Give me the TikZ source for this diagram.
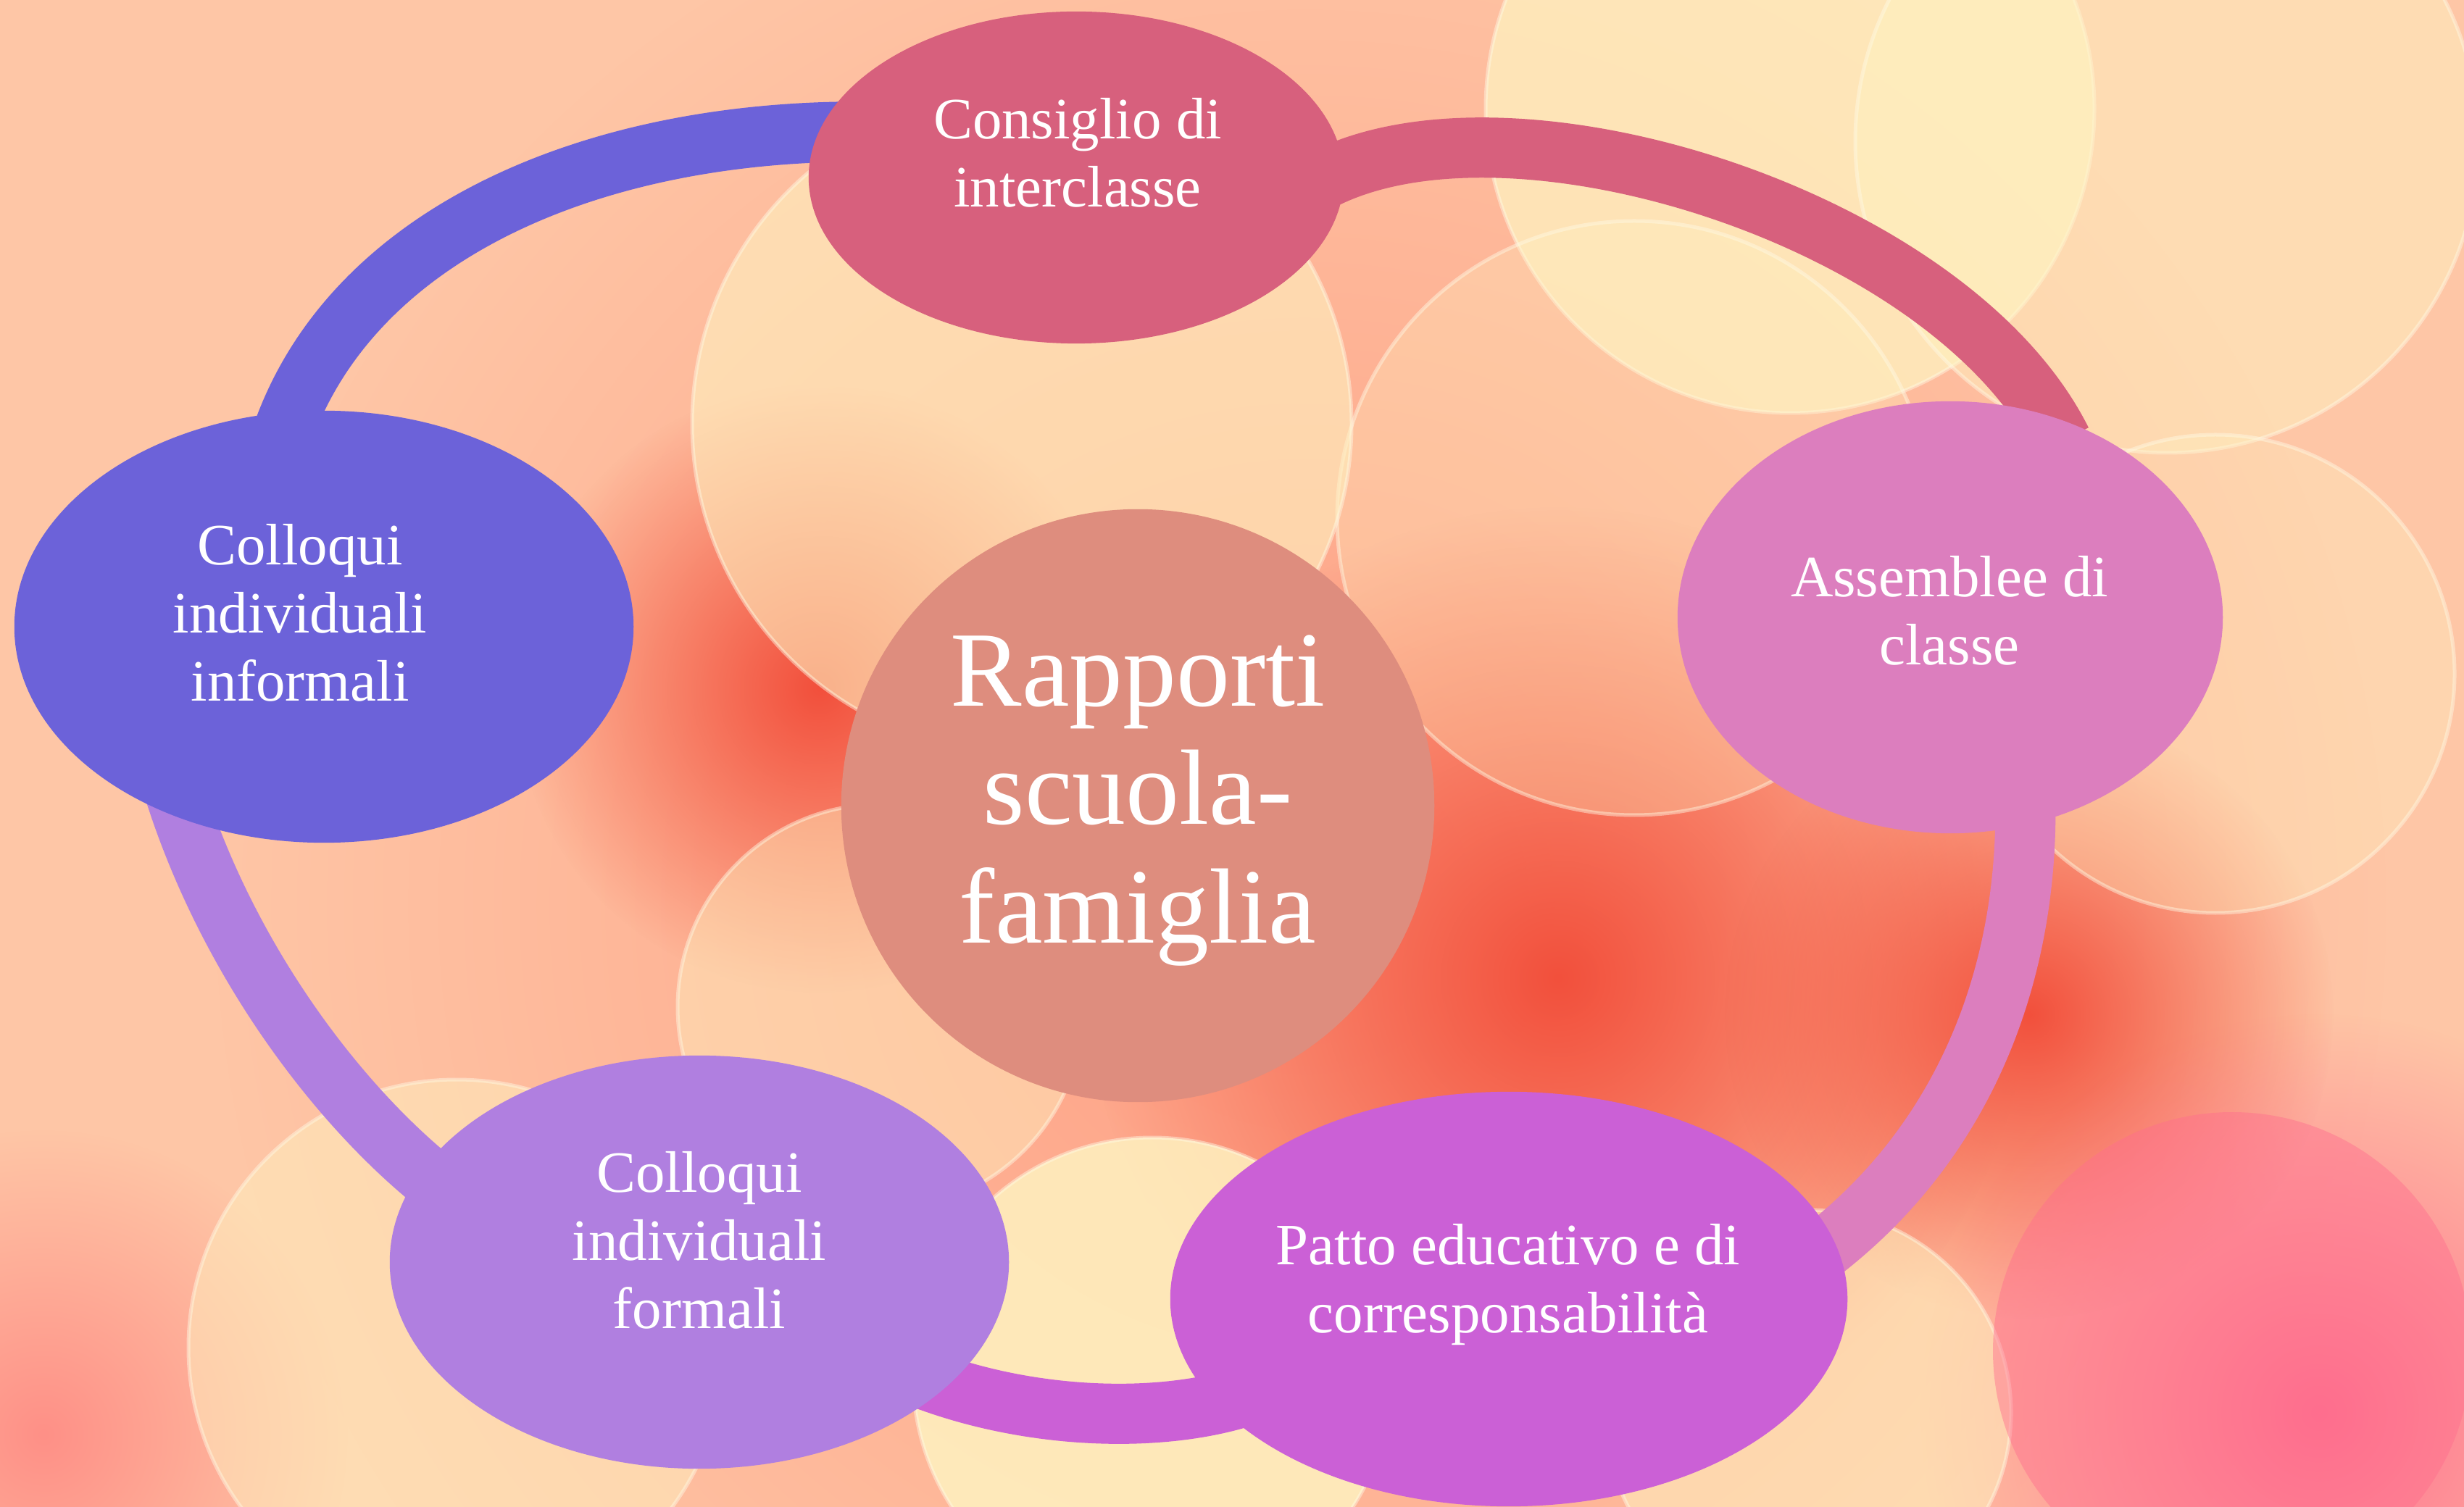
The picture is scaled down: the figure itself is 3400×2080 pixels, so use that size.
\documentclass[tikz,border=0pt]{standalone}
\usepackage{fontspec}
\setmainfont{Liberation Serif}
\usetikzlibrary{shapes.geometric,fadings}

\definecolor{bgPeach}{HTML}{FEC6A6}
\definecolor{bgSalmon}{HTML}{FF9F84}
\definecolor{bgRed}{HTML}{F2503C}
\definecolor{bgCream}{HTML}{FFF2C0}
\definecolor{bgPink}{HTML}{FF6E8E}
\definecolor{cCons}{HTML}{D7607D}
\definecolor{cInfo}{HTML}{6C62D9}
\definecolor{cAsse}{HTML}{DC7EBE}
\definecolor{cPatto}{HTML}{CB60D6}
\definecolor{cForm}{HTML}{B07FE0}
\definecolor{cMain}{HTML}{DE8D7E}

\tikzfading[name=glow, inner color=transparent!0, outer color=transparent!100]
\pgfdeclarelayer{backdrop}
\pgfdeclarelayer{rings}
\pgfsetlayers{backdrop,rings,main}

\tikzset{
  bubble/.style={ellipse, inner sep=0pt},
  ring/.style={line width=0.83cm, shorten <=-0.4cm, shorten >=-0.4cm},
  lbl/.style={text=white, align=center, font=\fontsize{23}{26.8}\selectfont},
  bokeh/.style={fill=bgCream, draw=bgCream!40!white, draw opacity=0.45, line width=0.05cm}
}

\begin{document}
\begin{tikzpicture}[x=0.01cm, y=-0.01cm]
    \useasboundingbox (0,0) rectangle (3400,2080);

    \node[bubble, fill=cCons, minimum width=7.38cm, minimum height=4.58cm] (cons) at (1485,245) {};
    \node[bubble, fill=cInfo, minimum width=8.54cm, minimum height=5.96cm] (info) at (447,865) {};
    \node[bubble, fill=cAsse, minimum width=7.52cm, minimum height=5.96cm] (asse) at (2691,852) {};
    \node[bubble, fill=cPatto, minimum width=9.34cm, minimum height=5.72cm] (patto) at (2082,1793) {};
    \node[bubble, fill=cForm, minimum width=8.54cm, minimum height=5.70cm] (form) at (965,1742) {};
    \node[circle, fill=cMain, minimum size=8.18cm, inner sep=0pt] (main) at (1570,1112) {};

    \node[lbl] (consT) at (1487,211) {Consiglio di\\interclasse};
    \node[lbl] (infoT) at (414,846) {Colloqui\\individuali\\informali};
    \node[lbl] (asseT) at (2690,843) {Assemblee di\\classe};
    \node[lbl] (formT) at (965,1712) {Colloqui\\individuali\\formali};
    \node[lbl] (pattoT) at (2081,1773) {Patto educativo e di\\corresponsabilità};
    \node[lbl, font=\fontsize{42}{46.4}\selectfont] (mainT) at (1570,1105) {Rapporti\\scuola-\\famiglia};

    \begin{pgfonlayer}{rings}
    \draw[ring, cInfo] (info.99) .. controls (480,330) and (800,186) .. (cons.170);
    \draw[ring, cCons] (cons.2) .. controls (2080,110) and (2690,300) .. (asse.64);
    \draw[ring, cAsse] (asse.-70) .. controls (2800,1360) and (2700,1590) .. (patto.10);
    \draw[ring, cPatto] (patto.200) .. controls (1600,1965) and (1420,1960) .. (form.-27);
    \draw[ring, cForm] (form.162) .. controls (480,1540) and (320,1340) .. (info.234);
    \end{pgfonlayer}

    \begin{pgfonlayer}{backdrop}
    \begin{scope}
    \clip (0,0) rectangle (3400,2080);
    \fill[bgPeach] (0,0) rectangle (3400,2080);
    \fill[bgSalmon, path fading=glow] (1800,1250) circle[radius=1500];
    \fill[bgRed, path fading=glow] (1130,950) circle[radius=420];
    \fill[bgRed, path fading=glow] (2150,1350) circle[radius=650];
    \fill[bgRed, path fading=glow] (2800,1400) circle[radius=420];
    \fill[bgPink, path fading=glow] (3200,1950) circle[radius=550];
    \fill[bgSalmon!70!bgPink, path fading=glow] (60,1980) circle[radius=420];
    \foreach \x/\y/\r/\o in {2470/150/420/0.75, 2990/195/430/0.5, 2255/715/410/0.3,
        3057/930/330/0.35, 1410/585/455/0.6, 1215/1390/280/0.45, 1590/1900/330/0.85,
        630/1860/370/0.5, 2495/1950/280/0.55}
      \path[bokeh, fill opacity=\o] (\x,\y) circle[radius=\r];
    \fill[bgPink, fill opacity=0.45] (3080,1865) circle[radius=330];
    \end{scope}
    \end{pgfonlayer}
\end{tikzpicture}
\end{document}
